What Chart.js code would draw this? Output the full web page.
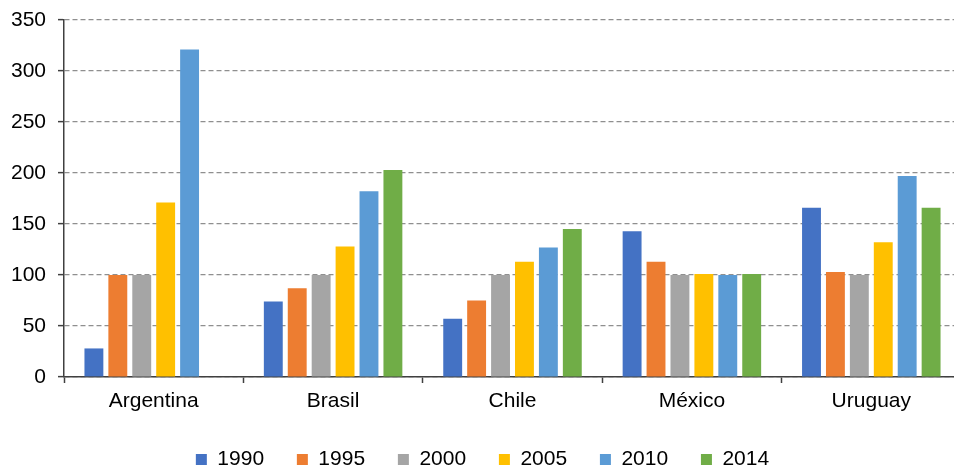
<!DOCTYPE html>
<html>
<head>
<meta charset="utf-8">
<script src="https://cdn.jsdelivr.net/npm/chart.js@4/dist/chart.umd.min.js"></script>
<style>
  html, body { margin: 0; padding: 0; background: #fff; }
  #wrap { width: 954px; height: 470px; overflow: hidden; position: relative; }
  canvas { display: block; }
</style>
</head>
<body>
<div id="wrap"><canvas id="chart" width="962" height="480"></canvas></div>
<script>
// Index values by country (base year 2000 = 100)
const categories = ['Argentina', 'Brasil', 'Chile', 'México', 'Uruguay'];
const years = ['1990', '1995', '2000', '2005', '2010', '2014'];

const v1990 = [28, 74, 57, 143, 166];
const v1995 = [100, 87, 75, 113, 103];
const v2000 = [100, 100, 100, 100, 100];
const v2005 = [171, 128, 113, 101, 132];
const v2010 = [321, 182, 127, 100, 197];
const v2014 = [null, 203, 145, 101, 166];

const yTicks = [0, 50, 100, 150, 200, 250, 300, 350];

const seriesValues = [v1990, v1995, v2000, v2005, v2010, v2014];
const seriesColors = ['#4472C4', '#ED7D31', '#A5A5A5', '#FFC000', '#5B9BD5', '#70AD47'];

const FONT = 'Liberation Sans, Arial, Helvetica, sans-serif';

// Nudge the legend row sideways after layout
const legendShift = {
  id: 'legendShift',
  afterLayout(chart) {
    const lg = chart.legend;
    if (lg) { lg.left += 2; lg.right += 2; }
  }
};

new Chart(document.getElementById('chart'), {
  type: 'bar',
  data: {
    labels: categories,
    datasets: years.map((y, i) => ({
      label: y,
      data: seriesValues[i],
      backgroundColor: seriesColors[i],
      borderWidth: 0,
      categoryPercentage: 0.8,
      barPercentage: 0.79
    }))
  },
  options: {
    responsive: false,
    devicePixelRatio: 1,
    animation: false,
    layout: { padding: { top: 20, right: 1, left: 0, bottom: 0 } },
    plugins: {
      tooltip: { enabled: false },
      legend: {
        position: 'bottom',
        labels: {
          boxWidth: 11,
          boxHeight: 11,
          padding: 32.8,
          color: '#000',
          font: { family: FONT, size: 21 }
        }
      }
    },
    scales: {
      x: {
        grid: {
          display: true,
          drawOnChartArea: false,
          drawTicks: true,
          tickLength: 6,
          tickColor: '#404040',
          tickWidth: 1.5
        },
        border: { display: true, color: '#404040', width: 1.5 },
        ticks: { color: '#000', padding: 6, font: { family: FONT, size: 21 } },
        afterFit(scale) { scale.height = 39.2; }
      },
      y: {
        min: 0,
        max: 350,
        afterBuildTicks(scale) { scale.ticks = yTicks.map(v => ({ value: v })); },
        grid: {
          color: '#8f8f8f',
          lineWidth: 1.25,
          tickLength: 6,
          tickColor: '#404040',
          tickWidth: 1.5,
          tickBorderDash: []
        },
        border: { display: true, color: '#404040', width: 1.5, dash: [5, 3] },
        ticks: { color: '#000', padding: 12, font: { family: FONT, size: 21 } },
        afterFit(scale) {
          scale.width = 64;
          scale.paddingTop = 0;
        }
      }
    }
  },
  plugins: [legendShift]
});
</script>
</body>
</html>
